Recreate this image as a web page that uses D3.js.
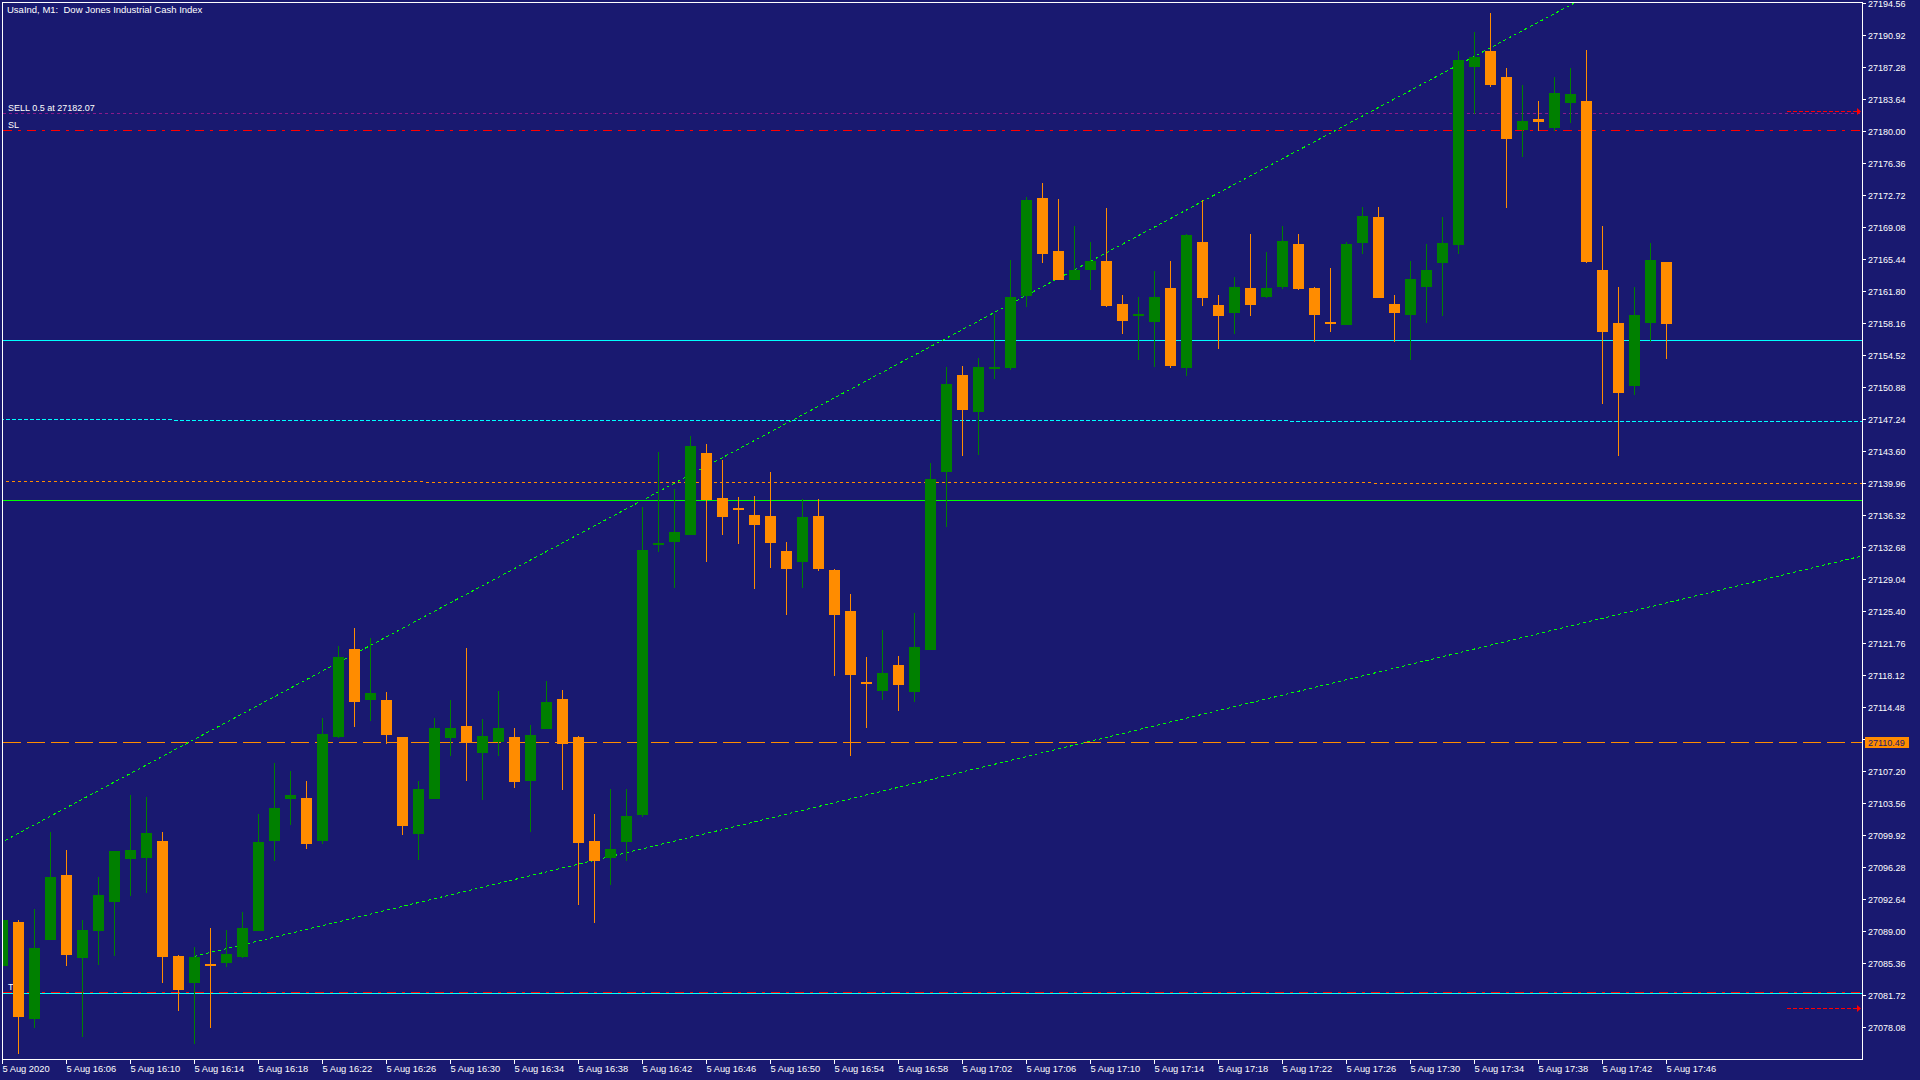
<!DOCTYPE html>
<html>
<head>
<meta charset="utf-8">
<script src="https://cdnjs.cloudflare.com/ajax/libs/d3/7.8.5/d3.min.js"></script>
<style>
  html, body { margin: 0; padding: 0; background: #191970; overflow: hidden; }
  svg { display: block; }
</style>
</head>
<body>
<div id="chart"></div>
<script>
// Bar times (M1)
var times = [
  "16:02","16:03","16:04","16:05","16:06","16:07","16:08","16:09","16:10","16:11",
  "16:12","16:13","16:14","16:15","16:16","16:17","16:18","16:19","16:20","16:21",
  "16:22","16:23","16:24","16:25","16:26","16:27","16:28","16:29","16:30","16:31",
  "16:32","16:33","16:34","16:35","16:36","16:37","16:38","16:39","16:40","16:41",
  "16:42","16:43","16:44","16:45","16:46","16:47","16:48","16:49","16:50","16:51",
  "16:52","16:53","16:54","16:55","16:56","16:57","16:58","16:59","17:00","17:01",
  "17:02","17:03","17:04","17:05","17:06","17:07","17:08","17:09","17:10","17:11",
  "17:12","17:13","17:14","17:15","17:16","17:17","17:18","17:19","17:20","17:21",
  "17:22","17:23","17:24","17:25","17:26","17:27","17:28","17:29","17:30","17:31",
  "17:32","17:33","17:34","17:35","17:36","17:37","17:38","17:39","17:40","17:41",
  "17:42","17:43","17:44","17:45","17:46"
];

var open = [
  27085.13,27090.10,27079.11,27088.09,27095.45,27086.05,27089.12,27092.42,27097.31,27097.42,
  27099.32,27086.24,27083.20,27085.29,27085.48,27086.16,27089.12,27099.36,27104.13,27104.21,
  27099.36,27111.19,27121.16,27115.40,27115.36,27111.15,27100.15,27104.13,27111.07,27112.40,
  27109.36,27110.54,27111.15,27106.18,27112.09,27115.47,27111.15,27099.31,27097.42,27099.24,
  27102.31,27133.03,27133.37,27134.16,27143.46,27138.34,27137.16,27136.40,27136.29,27132.31,
  27131.09,27136.29,27130.15,27125.48,27117.37,27116.42,27119.34,27116.30,27121.08,27141.33,
  27152.33,27148.16,27153.01,27153.13,27161.32,27172.47,27166.44,27163.18,27164.31,27165.30,
  27160.41,27159.08,27158.40,27162.23,27153.17,27167.46,27160.29,27159.42,27162.23,27161.24,
  27162.34,27167.23,27162.23,27158.36,27158.06,27167.39,27170.31,27160.41,27159.19,27162.38,
  27165.11,27167.16,27187.41,27189.19,27186.23,27180.24,27181.45,27180.47,27183.31,27183.50,
  27164.27,27158.24,27151.11,27158.28,27165.18
];
var high = [
  27091.00,27090.22,27091.47,27100.23,27098.29,27090.22,27095.22,27098.18,27104.44,27104.32,
  27100.23,27086.35,27087.26,27089.31,27089.19,27091.24,27102.28,27108.19,27107.28,27106.14,
  27113.31,27121.39,27123.55,27122.30,27116.16,27111.15,27106.14,27113.31,27115.25,27121.27,
  27113.19,27116.27,27112.17,27112.51,27117.52,27116.49,27111.26,27102.39,27105.23,27105.23,
  27137.31,27143.46,27139.36,27145.28,27144.37,27142.55,27138.34,27138.56,27141.29,27133.33,
  27138.22,27138.22,27130.15,27127.41,27120.25,27123.32,27120.36,27125.25,27142.32,27153.24,
  27153.35,27154.26,27159.27,27165.41,27172.58,27174.17,27172.35,27169.28,27167.35,27171.22,
  27161.32,27161.20,27164.16,27165.19,27168.26,27172.24,27161.43,27163.37,27168.37,27166.32,
  27169.28,27168.37,27162.34,27164.50,27167.35,27171.44,27171.33,27161.32,27165.19,27167.23,
  27170.30,27189.19,27191.35,27193.40,27187.25,27185.32,27183.50,27186.23,27187.25,27189.30,
  27169.17,27162.23,27162.34,27167.34,27165.18
];
var low = [
  27084.50,27075.16,27078.12,27088.09,27085.13,27077.06,27085.25,27086.27,27093.10,27093.44,
  27083.20,27080.02,27076.26,27078.12,27085.02,27086.05,27089.12,27097.08,27101.18,27098.45,
  27099.01,27111.07,27112.32,27113.01,27110.39,27100.04,27097.19,27104.13,27109.03,27106.18,
  27104.02,27109.10,27105.38,27100.38,27112.09,27105.15,27092.07,27090.02,27094.35,27097.08,
  27102.08,27132.23,27128.14,27134.16,27131.09,27134.16,27133.14,27128.02,27130.41,27125.06,
  27128.14,27130.07,27118.12,27109.02,27112.21,27115.39,27114.14,27115.17,27121.08,27135.07,
  27143.15,27143.27,27151.99,27153.01,27160.10,27165.11,27163.18,27163.18,27162.04,27160.10,
  27157.03,27154.07,27153.28,27153.17,27152.25,27160.22,27155.33,27157.03,27159.08,27161.13,
  27162.15,27162.04,27156.12,27157.26,27158.06,27166.13,27161.13,27156.12,27154.07,27158.28,
  27159.08,27166.13,27182.06,27185.13,27171.36,27177.17,27180.12,27180.12,27181.03,27165.11,
  27149.07,27143.15,27150.09,27156.12,27154.19
];
var close = [
  27090.33,27079.33,27087.14,27095.22,27086.39,27089.19,27093.17,27098.18,27098.29,27100.23,
  27086.16,27082.40,27086.12,27085.21,27086.46,27089.42,27099.20,27103.07,27104.55,27099.01,
  27111.49,27120.25,27115.17,27116.16,27111.41,27101.06,27105.23,27112.17,27112.17,27110.50,
  27111.26,27112.17,27106.06,27111.37,27115.13,27110.39,27099.12,27097.08,27098.40,27102.16,
  27132.42,27133.22,27134.47,27144.25,27138.15,27136.21,27137.10,27135.30,27133.25,27130.30,
  27136.17,27130.30,27125.06,27118.24,27117.25,27118.43,27117.10,27121.39,27140.50,27151.31,
  27148.39,27153.24,27153.24,27161.20,27172.24,27166.13,27163.18,27164.28,27165.30,27160.22,
  27158.51,27159.27,27161.20,27153.39,27168.26,27161.13,27159.08,27162.34,27160.33,27162.23,
  27167.57,27162.15,27159.19,27158.17,27167.23,27170.42,27161.13,27159.42,27163.25,27164.27,
  27167.34,27188.16,27188.51,27185.36,27179.21,27181.22,27181.15,27184.41,27184.30,27165.22,
  27157.26,27150.32,27159.15,27165.41,27158.17
];

// Price scale ticks
var priceTicks = [
  27078.08,27081.72,27085.36,27089.00,27092.64,27096.28,27099.92,27103.56,27107.20,27110.84,
  27114.48,27118.12,27121.76,27125.40,27129.04,27132.68,27136.32,27139.96,27143.60,27147.24,
  27150.88,27154.52,27158.16,27161.80,27165.44,27169.08,27172.72,27176.36,27180.00,27183.64,
  27187.28,27190.92,27194.56
];

// Time scale ticks
var xTickTimes = ["16:02","16:06","16:10","16:14","16:18","16:22","16:26","16:30","16:34",
  "16:38","16:42","16:46","16:50","16:54","16:58","17:02","17:06","17:10","17:14","17:18",
  "17:22","17:26","17:30","17:34","17:38","17:42","17:46"];
var xTickLabels = ["5 Aug 2020","5 Aug 16:06","5 Aug 16:10","5 Aug 16:14","5 Aug 16:18",
  "5 Aug 16:22","5 Aug 16:26","5 Aug 16:30","5 Aug 16:34","5 Aug 16:38","5 Aug 16:42",
  "5 Aug 16:46","5 Aug 16:50","5 Aug 16:54","5 Aug 16:58","5 Aug 17:02","5 Aug 17:06",
  "5 Aug 17:10","5 Aug 17:14","5 Aug 17:18","5 Aug 17:22","5 Aug 17:26","5 Aug 17:30",
  "5 Aug 17:34","5 Aug 17:38","5 Aug 17:42","5 Aug 17:46"];

// Horizontal lines: cyan, lime, orange (labelled on axis), cyan
var levelPrices = [27156.28, 27138.08, 27110.49, 27081.99];
// Trade lines: entry, stop loss, take profit
var tradePrices = [27182.07, 27180.17, 27082.10];
var tradeLabels = ["SELL 0.5 at 27182.07", "SL", "TP"];
// Trend lines: bar index pairs and price pairs
var trendBars = [[-1, 98], [12, 59], [0, 104], [0, 104]];
var trendPrices = [[27098.26, 27194.42], [27086.20, 27106.74], [27147.23, 27147.06], [27140.21, 27140.01]];
// Arrows at the right edge
var arrowPrices = [27182.35, 27080.28];

var title = "UsaInd, M1:  Dow Jones Industrial Cash Index";

// ---- styles ----
var BG = "#191970", BULL = "#008000", BEAR = "#ff8c00";
var levelStyle = [
  { stroke: "#00ffff", dash: null },
  { stroke: "#00ff00", dash: null },
  { stroke: "#ff8c00", dash: "18,6" },
  { stroke: "#00ffff", dash: null }
];
var tradeStyle = [
  { stroke: "#8b1a8b", dash: "3,3" },
  { stroke: "#ff0000", dash: "9,6,3,6" },
  { stroke: "#ff0000", dash: "9,6,3,6" }
];
var trendStyle = [
  { stroke: "#00ff00", dash: "3,3" },
  { stroke: "#00ff00", dash: "3,3" },
  { stroke: "#00ffff", dash: "4,2" },
  { stroke: "#ff8c00", dash: "3,3" }
];
var FONT = "'Liberation Sans', Arial, sans-serif";

var width = 1920, height = 1080;
var plotL = 3, plotT = 3, plotR = 1862, plotB = 1059;

var svg = d3.select("#chart")
  .append("svg")
  .attr("width", width)
  .attr("height", height);

svg.append("rect").attr("width", width).attr("height", height).attr("fill", BG);

svg.append("defs").append("clipPath").attr("id", "plotClip")
  .append("rect")
  .attr("x", plotL).attr("y", plotT)
  .attr("width", plotR - plotL).attr("height", plotB - plotT);

// Scales: 16px per bar, first bar centred on the left border
var n = times.length;
var xScale = d3.scaleLinear().domain([0, n - 1]).range([2.5, 2.5 + 16 * (n - 1)]);
var yScale = d3.scaleLinear().domain([27078.08, 27194.56]).range([1027.7, 3.8]);

function row(p) { return Math.floor(yScale(p)) + 0.5; }

var plot = svg.append("g").attr("clip-path", "url(#plotClip)");

// Horizontal level lines
plot.selectAll("line.level")
  .data(levelPrices)
  .enter().append("line")
  .attr("class", "level")
  .attr("x1", plotL).attr("x2", plotR)
  .attr("y1", function (d) { return row(d); })
  .attr("y2", function (d) { return row(d); })
  .attr("stroke", function (d, i) { return levelStyle[i].stroke; })
  .attr("stroke-dasharray", function (d, i) { return levelStyle[i].dash; })
  .attr("shape-rendering", "crispEdges");

// Trade lines + their labels
plot.selectAll("line.trade")
  .data(tradePrices)
  .enter().append("line")
  .attr("class", "trade")
  .attr("x1", plotL).attr("x2", plotR)
  .attr("y1", function (d) { return row(d); })
  .attr("y2", function (d) { return row(d); })
  .attr("stroke", function (d, i) { return tradeStyle[i].stroke; })
  .attr("stroke-dasharray", function (d, i) { return tradeStyle[i].dash; })
  .attr("shape-rendering", "crispEdges");

plot.selectAll("text.trade")
  .data(tradePrices)
  .enter().append("text")
  .attr("class", "trade")
  .attr("x", 8)
  .attr("y", function (d) { return row(d) - 2.5; })
  .attr("fill", "#ffffff")
  .style("font-family", FONT)
  .style("font-size", "9px")
  .text(function (d, i) { return tradeLabels[i]; });

// Trend lines: through both anchors, extended across the plot
plot.selectAll("line.trend")
  .data(trendBars)
  .enter().append("line")
  .attr("class", "trend")
  .attr("x1", function (d) { return d[0] <= 0 ? 0 : xScale(d[0]); })
  .attr("y1", function (d, i) {
    var x1 = xScale(d[0]), x2 = xScale(d[1]);
    var y1 = yScale(trendPrices[i][0]), y2 = yScale(trendPrices[i][1]);
    var xs = d[0] <= 0 ? 0 : x1;
    return y1 + (y2 - y1) * (xs - x1) / (x2 - x1);
  })
  .attr("x2", plotR)
  .attr("y2", function (d, i) {
    var x1 = xScale(d[0]), x2 = xScale(d[1]);
    var y1 = yScale(trendPrices[i][0]), y2 = yScale(trendPrices[i][1]);
    return y1 + (y2 - y1) * (plotR - x1) / (x2 - x1);
  })
  .attr("stroke", function (d, i) { return trendStyle[i].stroke; })
  .attr("stroke-dasharray", function (d, i) { return trendStyle[i].dash; })
  .attr("shape-rendering", "crispEdges");

// Red dotted arrows near the right edge
var arrows = plot.selectAll("g.arrow")
  .data(arrowPrices)
  .enter().append("g")
  .attr("class", "arrow");
arrows.append("line")
  .attr("x1", xScale(111.5)).attr("x2", plotR - 4)
  .attr("y1", function (d) { return row(d); })
  .attr("y2", function (d) { return row(d); })
  .attr("stroke", "#ff0000")
  .attr("stroke-dasharray", "4,2")
  .attr("shape-rendering", "crispEdges");
arrows.append("path")
  .attr("d", function (d) {
    var y = row(d);
    return "M" + (plotR - 5) + "," + (y - 3.5) + "L" + (plotR - 1) + "," + y + "L" + (plotR - 5) + "," + (y + 3.5) + "Z";
  })
  .attr("fill", "#ff0000");

// Candles
var idx = d3.range(n);
plot.selectAll("line.wick")
  .data(idx)
  .enter().append("line")
  .attr("class", "wick")
  .attr("x1", function (i) { return xScale(i); })
  .attr("x2", function (i) { return xScale(i); })
  .attr("y1", function (i) { return Math.floor(yScale(high[i])); })
  .attr("y2", function (i) { return Math.floor(yScale(low[i])) + 1; })
  .attr("stroke", function (i) { return close[i] >= open[i] ? BULL : BEAR; })
  .attr("shape-rendering", "crispEdges");

plot.selectAll("rect.body")
  .data(idx)
  .enter().append("rect")
  .attr("class", "body")
  .attr("x", function (i) { return xScale(i) - 5.5; })
  .attr("width", 11)
  .attr("y", function (i) { return Math.round(yScale(Math.max(open[i], close[i]))); })
  .attr("height", function (i) {
    var top = Math.round(yScale(Math.max(open[i], close[i])));
    var bot = Math.round(yScale(Math.min(open[i], close[i])));
    return Math.max(2, bot - top);
  })
  .attr("fill", function (i) { return close[i] >= open[i] ? BULL : BEAR; })
  .attr("shape-rendering", "crispEdges");

// Title
svg.append("text")
  .attr("x", 7).attr("y", 13)
  .attr("fill", "#ffffff")
  .style("font-family", FONT)
  .style("font-size", "9.5px")
  .style("white-space", "pre")
  .text(title);

// Frame
svg.append("rect")
  .attr("x", 2.5).attr("y", 2.5)
  .attr("width", plotR - 2).attr("height", plotB - 2)
  .attr("fill", "none")
  .attr("stroke", "#ffffff")
  .attr("shape-rendering", "crispEdges");

// Price axis (right)
var yAxisScale = yScale.copy()
  .range([yScale.range()[0] - 0.5, yScale.range()[1] - 0.5])
  .interpolate(d3.interpolateRound);
var yAxis = d3.axisRight(yAxisScale)
  .tickValues(priceTicks)
  .tickFormat(function (d) { return d.toFixed(2); })
  .tickSize(4)
  .tickPadding(2);
var gy = svg.append("g")
  .attr("transform", "translate(" + plotR + ",0)")
  .attr("color", "#ffffff")
  .call(yAxis);
gy.select(".domain").remove();
gy.selectAll("line").attr("shape-rendering", "crispEdges");
gy.selectAll("text")
  .attr("dy", "0.42em")
  .style("font-family", FONT)
  .style("font-size", "9px");

// Time axis (bottom)
var xAxisScale = xScale.copy().range([xScale.range()[0] - 0.5, xScale.range()[1] - 0.5]);
var xAxis = d3.axisBottom(xAxisScale)
  .tickValues(xTickTimes.map(function (t) { return times.indexOf(t); }))
  .tickFormat(function (d, i) { return xTickLabels[i]; })
  .tickSize(4);
var gx = svg.append("g")
  .attr("transform", "translate(0," + (plotB + 1) + ")")
  .attr("color", "#ffffff")
  .call(xAxis);
gx.select(".domain").remove();
gx.selectAll("line").attr("shape-rendering", "crispEdges");
gx.selectAll("text")
  .attr("y", 12)
  .attr("dy", 0)
  .attr("text-anchor", "start")
  .style("font-family", FONT)
  .style("font-size", "9.3px");

// Price label of the orange level on the axis
var lvl = levelPrices[2];
svg.append("rect")
  .attr("x", plotR + 3).attr("y", row(lvl) - 5.5)
  .attr("width", 44).attr("height", 11)
  .attr("fill", "#ff8c00")
  .attr("shape-rendering", "crispEdges");
svg.append("text")
  .attr("x", plotR + 6).attr("y", row(lvl) + 3.8)
  .attr("fill", BG)
  .style("font-family", FONT)
  .style("font-size", "9px")
  .text(lvl.toFixed(2));
</script>
</body>
</html>
